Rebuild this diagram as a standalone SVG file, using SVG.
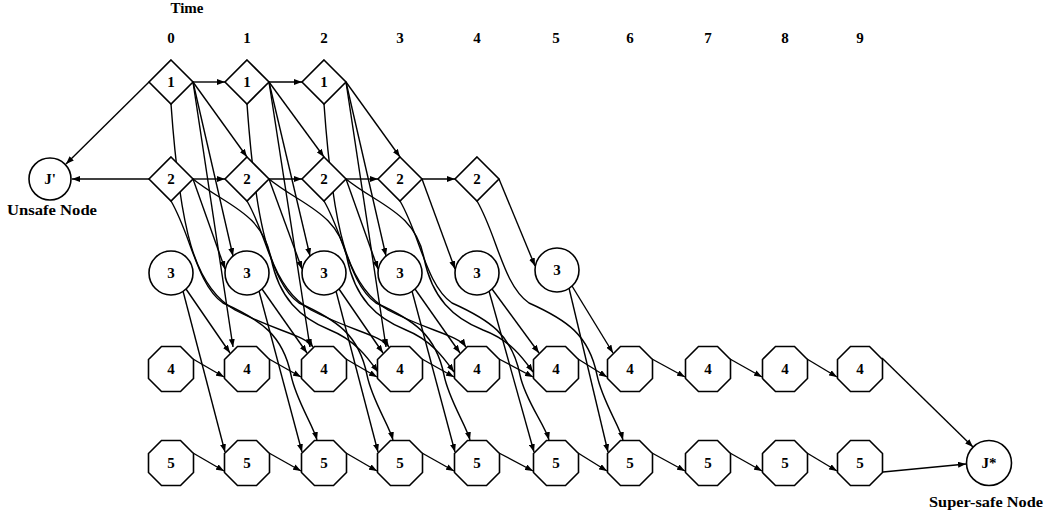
<svg xmlns="http://www.w3.org/2000/svg" xmlns:xlink="http://www.w3.org/1999/xlink" width="1047" height="514" viewBox="0 0 1047 514">
<style>
.nd{fill:#fff;stroke:#000;stroke-width:1.6}
.e{fill:none;stroke:#000;stroke-width:1.4;marker-end:url(#ah)}
.t{font-family:"Liberation Serif","Times New Roman",serif;font-weight:bold;font-size:15px;text-anchor:middle;fill:#000}
</style>
<defs>
<marker id="ah" markerWidth="9" markerHeight="6" refX="8" refY="3" orient="auto" markerUnits="userSpaceOnUse"><path d="M0,0 L8,3 L0,6 z" fill="#000"/></marker>
<polygon id="dia" points="0,-22 22,0 0,22 -22,0"/>
<polygon id="oct" points="-9.5,-22.5 9.5,-22.5 22.5,-9.5 22.5,9.5 9.5,22.5 -9.5,22.5 -22.5,9.5 -22.5,-9.5"/>
</defs>
<rect width="1047" height="514" fill="#fff"/>
<g id="axis">
<text class="t" x="187" y="13">Time</text>
<text class="t" x="171" y="43">0</text><text class="t" x="247" y="43">1</text><text class="t" x="324" y="43">2</text><text class="t" x="400" y="43">3</text><text class="t" x="477" y="43">4</text><text class="t" x="556" y="43">5</text><text class="t" x="630" y="43">6</text><text class="t" x="708" y="43">7</text><text class="t" x="785" y="43">8</text><text class="t" x="860" y="43">9</text>
</g>
<g id="connectors">
<path class="e" d="M149,82 L66,164"/>
<path class="e" d="M149,179 L72,179"/>
<path class="e" d="M193,82 L225,82"/><path class="e" d="M269,82 L302,82"/>
<path class="e" d="M193,82 L247,157"/><path class="e" d="M269,82 L324,157"/><path class="e" d="M346,82 L400,157"/>
<path class="e" d="M193,82 L233,256"/><path class="e" d="M269,82 L310,256"/><path class="e" d="M346,82 L386,256"/>
<path class="e" d="M193,82 L233,347"/><path class="e" d="M269,82 L310,347"/><path class="e" d="M346,82 L386,347"/>
<path class="e" d="M171,104 C180,230 194,287 235,310 C275,331 305,335 313,347"/>
<path class="e" d="M247,104 C256,230 270,287 311,310 C351,331 381,335 389,347"/>
<path class="e" d="M324,104 C333,230 347,287 388,310 C428,331 458,335 466,347"/>
<path class="e" d="M193,179 L225,179"/><path class="e" d="M269,179 L302,179"/><path class="e" d="M346,179 L378,179"/><path class="e" d="M422,179 L455,179"/>
<path class="e" d="M193,179 L225,269"/><path class="e" d="M269,179 L302,269"/><path class="e" d="M346,179 L378,269"/><path class="e" d="M422,179 L455,269"/><path class="e" d="M499,179 L535,266"/>
<path class="e" d="M193,179 C225,205 262,212 271,258 C279,298 300,318 330,330 C355,340 368,358 378,372"/>
<path class="e" d="M269,179 C301,205 338,212 347,258 C355,298 376,318 406,330 C431,340 444,358 454,372"/>
<path class="e" d="M346,179 C378,205 415,212 424,258 C432,298 453,318 483,330 C510,340 523,358 533,372"/>
<path class="e" d="M171,201 C191,235 197,285 223,303 C261,320 283,335 291,375 C296,400 313,425 317,440"/>
<path class="e" d="M247,201 C267,235 273,285 299,303 C337,320 359,335 367,375 C372,400 389,425 393,440"/>
<path class="e" d="M324,201 C344,235 350,285 376,303 C414,320 436,335 444,375 C449,400 466,425 470,440"/>
<path class="e" d="M400,201 C420,235 426,285 452,303 C490,320 512,335 520,375 C525,400 545,425 549,440"/>
<path class="e" d="M477,201 C497,235 503,285 529,303 C567,320 589,335 597,375 C602,400 619,425 623,440"/>
<path class="e" d="M186,289 L230,353"/><path class="e" d="M262,289 L307,353"/><path class="e" d="M339,289 L383,353"/><path class="e" d="M415,289 L460,353"/><path class="e" d="M492,289 L539,353"/><path class="e" d="M572,286 L613,353"/>
<path class="e" d="M183,291 L225,452"/><path class="e" d="M259,291 L302,452"/><path class="e" d="M336,291 L378,452"/><path class="e" d="M412,291 L455,452"/><path class="e" d="M489,291 L534,452"/><path class="e" d="M569,288 L608,452"/>
<path class="e" d="M193,359 L224,377"/><path class="e" d="M269,359 L301,377"/><path class="e" d="M346,359 L377,377"/><path class="e" d="M422,359 L454,377"/><path class="e" d="M499,359 L533,377"/><path class="e" d="M578,359 L607,377"/><path class="e" d="M652,359 L685,377"/><path class="e" d="M730,359 L762,377"/><path class="e" d="M807,359 L837,377"/>
<path class="e" d="M193,453 L224,471"/><path class="e" d="M269,453 L301,471"/><path class="e" d="M346,453 L377,471"/><path class="e" d="M422,453 L454,471"/><path class="e" d="M499,453 L533,471"/><path class="e" d="M578,453 L607,471"/><path class="e" d="M652,453 L685,471"/><path class="e" d="M730,453 L762,471"/><path class="e" d="M807,453 L837,471"/>
<path class="e" d="M882,358 L973,447"/>
<path class="e" d="M883,472 L966,464"/>
</g>
<g id="Jprime"><circle class="nd" cx="50" cy="179" r="21"/><text class="t" x="50" y="184">J'</text><text class="t" x="52" y="215" textLength="90" lengthAdjust="spacingAndGlyphs">Unsafe Node</text></g>
<g id="Jstar"><circle class="nd" cx="989" cy="463" r="22.5"/><text class="t" x="989" y="468">J*</text><text class="t" x="986" y="507" textLength="114" lengthAdjust="spacingAndGlyphs">Super-safe Node</text></g>
<g id="n1_0" transform="translate(171,82)"><use href="#dia" class="nd"/><text class="t" y="5">1</text></g>
<g id="n1_1" transform="translate(247,82)"><use href="#dia" class="nd"/><text class="t" y="5">1</text></g>
<g id="n1_2" transform="translate(324,82)"><use href="#dia" class="nd"/><text class="t" y="5">1</text></g>
<g id="n2_0" transform="translate(171,179)"><use href="#dia" class="nd"/><text class="t" y="5">2</text></g>
<g id="n2_1" transform="translate(247,179)"><use href="#dia" class="nd"/><text class="t" y="5">2</text></g>
<g id="n2_2" transform="translate(324,179)"><use href="#dia" class="nd"/><text class="t" y="5">2</text></g>
<g id="n2_3" transform="translate(400,179)"><use href="#dia" class="nd"/><text class="t" y="5">2</text></g>
<g id="n2_4" transform="translate(477,179)"><use href="#dia" class="nd"/><text class="t" y="5">2</text></g>
<g id="n3_0" transform="translate(171,273)"><circle r="22" class="nd"/><text class="t" y="5">3</text></g>
<g id="n3_1" transform="translate(247,273)"><circle r="22" class="nd"/><text class="t" y="5">3</text></g>
<g id="n3_2" transform="translate(324,273)"><circle r="22" class="nd"/><text class="t" y="5">3</text></g>
<g id="n3_3" transform="translate(400,273)"><circle r="22" class="nd"/><text class="t" y="5">3</text></g>
<g id="n3_4" transform="translate(477,273)"><circle r="22" class="nd"/><text class="t" y="5">3</text></g>
<g id="n3_5" transform="translate(557,270)"><circle r="22" class="nd"/><text class="t" y="5">3</text></g>
<g id="n4_0" transform="translate(171,369)"><use href="#oct" class="nd"/><text class="t" y="5">4</text></g>
<g id="n4_1" transform="translate(247,369)"><use href="#oct" class="nd"/><text class="t" y="5">4</text></g>
<g id="n4_2" transform="translate(324,369)"><use href="#oct" class="nd"/><text class="t" y="5">4</text></g>
<g id="n4_3" transform="translate(400,369)"><use href="#oct" class="nd"/><text class="t" y="5">4</text></g>
<g id="n4_4" transform="translate(477,369)"><use href="#oct" class="nd"/><text class="t" y="5">4</text></g>
<g id="n4_5" transform="translate(556,369)"><use href="#oct" class="nd"/><text class="t" y="5">4</text></g>
<g id="n4_6" transform="translate(630,369)"><use href="#oct" class="nd"/><text class="t" y="5">4</text></g>
<g id="n4_7" transform="translate(708,369)"><use href="#oct" class="nd"/><text class="t" y="5">4</text></g>
<g id="n4_8" transform="translate(785,369)"><use href="#oct" class="nd"/><text class="t" y="5">4</text></g>
<g id="n4_9" transform="translate(860,369)"><use href="#oct" class="nd"/><text class="t" y="5">4</text></g>
<g id="n5_0" transform="translate(171,463)"><use href="#oct" class="nd"/><text class="t" y="5">5</text></g>
<g id="n5_1" transform="translate(247,463)"><use href="#oct" class="nd"/><text class="t" y="5">5</text></g>
<g id="n5_2" transform="translate(324,463)"><use href="#oct" class="nd"/><text class="t" y="5">5</text></g>
<g id="n5_3" transform="translate(400,463)"><use href="#oct" class="nd"/><text class="t" y="5">5</text></g>
<g id="n5_4" transform="translate(477,463)"><use href="#oct" class="nd"/><text class="t" y="5">5</text></g>
<g id="n5_5" transform="translate(556,463)"><use href="#oct" class="nd"/><text class="t" y="5">5</text></g>
<g id="n5_6" transform="translate(630,463)"><use href="#oct" class="nd"/><text class="t" y="5">5</text></g>
<g id="n5_7" transform="translate(708,463)"><use href="#oct" class="nd"/><text class="t" y="5">5</text></g>
<g id="n5_8" transform="translate(785,463)"><use href="#oct" class="nd"/><text class="t" y="5">5</text></g>
<g id="n5_9" transform="translate(860,463)"><use href="#oct" class="nd"/><text class="t" y="5">5</text></g>
</svg>
